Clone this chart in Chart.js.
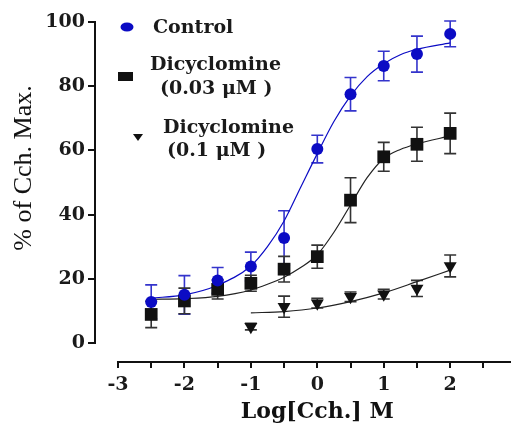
<!DOCTYPE html>
<html>
<head>
<meta charset="utf-8">
<script src="https://cdn.jsdelivr.net/npm/chart.js@4.4.1/dist/chart.umd.min.js"></script>
<style>
  html, body { margin: 0; padding: 0; background: #fff; }
  canvas { display: block; }
</style>
</head>
<body>
<canvas id="curveChart" width="511" height="427"></canvas>
<script>
// measured points (log concentration, % of Cch max, SEM)
const logConc = [-2.5, -2, -1.5, -1, -0.5, 0, 0.5, 1, 1.5, 2];
const controlMean = [12.8, 15.0, 19.5, 23.8, 32.7, 60.4, 77.5, 86.3, 90.0, 96.3];
const controlErr = [5.3, 6.0, 4.0, 4.5, 8.5, 4.3, 5.2, 4.6, 5.6, 4.0];
const dicy003Mean = [8.9, 13.1, 16.7, 18.6, 23.0, 26.9, 44.5, 58.0, 61.9, 65.3];
const dicy003Err = [4.1, 4.0, 3.0, 2.5, 4.0, 3.6, 7.0, 4.5, 5.3, 6.3];
const dicy01Conc = [-1, -0.5, 0, 0.5, 1, 1.5, 2];
const dicy01Mean = [5.1, 11.3, 12.4, 14.4, 15.2, 17.0, 24.0];
const dicy01Err = [1.0, 3.3, 1.5, 1.5, 1.5, 2.5, 3.4];

// fitted curves
const fitX = [-2.5, -2, -1.5, -1, -0.75, -0.5, -0.25, 0, 0.25, 0.5, 0.75, 1, 1.25, 1.5, 2];
const controlFit = [14.0, 15.0, 18.0, 24.0, 30.0, 38.0, 48.5, 59.0, 69.0, 77.0, 83.0, 87.0, 89.8, 91.5, 93.5];
const dicy003Fit = [13.6, 13.8, 14.5, 16.5, 18.3, 20.5, 23.5, 27.5, 34.5, 43.0, 51.5, 57.5, 60.3, 62.0, 64.5];
const dicy01FitX = [-1, -0.5, 0, 0.5, 1, 1.5, 2];
const dicy01Fit = [9.4, 9.8, 10.9, 12.9, 15.6, 19.1, 22.7];

const xTicks = [-3, -2.5, -2, -1.5, -1, -0.5, 0, 0.5, 1, 1.5, 2, 2.5];
const yTicks = [0, 20, 40, 60, 80, 100];
const xTitle = 'Log[Cch.] M';
const yTitle = '% of Cch. Max.';

const BLUE = '#0b0bc4';
const BLUE_ERR = '#3434cc';
const BLACK = '#111';

const pts = (xs, ys) => xs.map((v, i) => ({ x: v, y: ys[i] }));

const errorSets = [
    { xs: logConc, ys: controlMean, err: controlErr, color: BLUE_ERR },
    { xs: logConc, ys: dicy003Mean, err: dicy003Err, color: '#333' },
    { xs: dicy01Conc, ys: dicy01Mean, err: dicy01Err, color: '#333' }
];

const decor = {
    id: 'decor',
    beforeDatasetsDraw(chart) {
        const { ctx, scales: { x, y } } = chart;
        ctx.save();
        ctx.lineWidth = 1.6;
        errorSets.forEach(s => {
            ctx.strokeStyle = s.color;
            s.xs.forEach((v, i) => {
                const px = x.getPixelForValue(v);
                const top = y.getPixelForValue(s.ys[i] + s.err[i]);
                const bot = y.getPixelForValue(s.ys[i] - s.err[i]);
                ctx.beginPath();
                ctx.moveTo(px, top); ctx.lineTo(px, bot);
                ctx.moveTo(px - 6, top); ctx.lineTo(px + 6, top);
                ctx.moveTo(px - 6, bot); ctx.lineTo(px + 6, bot);
                ctx.stroke();
            });
        });
        ctx.restore();
    },
    afterDraw(chart) {
        const { ctx, chartArea, scales: { x, y } } = chart;
        ctx.save();
        // offset axes
        ctx.strokeStyle = BLACK;
        ctx.lineWidth = 2;
        ctx.beginPath();
        ctx.moveTo(chartArea.left, y.getPixelForValue(0) + 1);
        ctx.lineTo(chartArea.left, y.getPixelForValue(100) - 1);
        ctx.moveTo(x.getPixelForValue(-3) - 1, chartArea.bottom);
        ctx.lineTo(chart.width, chartArea.bottom);
        ctx.stroke();

        // axis titles
        ctx.fillStyle = BLACK;
        ctx.textAlign = 'center';
        ctx.textBaseline = 'alphabetic';
        ctx.font = 'bold 22px "DejaVu Serif"';
        ctx.fillText(xTitle, x.getPixelForValue(0), 418);
        ctx.save();
        ctx.translate(31, 168);
        ctx.rotate(-Math.PI / 2);
        ctx.font = '26px "Liberation Serif"';
        ctx.fillText(yTitle, 0, 0);
        ctx.restore();

        // legend
        ctx.textAlign = 'left';
        ctx.font = 'bold 19px "DejaVu Serif"';
        ctx.fillStyle = BLUE;
        ctx.beginPath();
        ctx.ellipse(127, 27, 6.5, 4.5, 0, 0, Math.PI * 2);
        ctx.fill();
        ctx.fillStyle = BLACK;
        ctx.fillRect(118, 72, 15, 9);
        ctx.beginPath();
        ctx.moveTo(133, 134); ctx.lineTo(143, 134); ctx.lineTo(138, 141);
        ctx.closePath();
        ctx.fill();
        ctx.fillStyle = '#1a1a1a';
        ctx.fillText('Control', 153, 33);
        ctx.fillText('Dicyclomine', 150, 70);
        ctx.fillText('(0.03 \u03bcM )', 160, 94);
        ctx.fillText('Dicyclomine', 163, 133);
        ctx.fillText('(0.1 \u03bcM )', 167, 156);
        ctx.restore();
    }
};

new Chart(document.getElementById('curveChart'), {
    type: 'scatter',
    data: {
        datasets: [
            {
                data: pts(logConc, controlMean),
                pointStyle: 'circle', pointRadius: 6,
                backgroundColor: BLUE, borderColor: BLUE, borderWidth: 0
            },
            {
                data: pts(logConc, dicy003Mean),
                pointStyle: 'rect', pointRadius: 9,
                backgroundColor: BLACK, borderColor: BLACK, borderWidth: 0
            },
            {
                data: pts(dicy01Conc, dicy01Mean),
                pointStyle: 'triangle', pointRadius: 7.5, rotation: 180,
                backgroundColor: BLACK, borderColor: BLACK, borderWidth: 0
            },
            {
                data: pts(fitX, controlFit), showLine: true, pointRadius: 0,
                borderColor: BLUE, borderWidth: 1.2, cubicInterpolationMode: 'monotone'
            },
            {
                data: pts(fitX, dicy003Fit), showLine: true, pointRadius: 0,
                borderColor: '#222', borderWidth: 1.2, cubicInterpolationMode: 'monotone'
            },
            {
                data: pts(dicy01FitX, dicy01Fit), showLine: true, pointRadius: 0,
                borderColor: '#222', borderWidth: 1.2, cubicInterpolationMode: 'monotone'
            }
        ]
    },
    options: {
        responsive: false,
        animation: false,
        devicePixelRatio: 1,
        layout: { padding: { top: 22, right: 0, bottom: 0, left: 0 } },
        plugins: { legend: { display: false }, tooltip: { enabled: false } },
        scales: {
            x: {
                type: 'linear',
                min: -3.346,
                max: 2.78,
                afterBuildTicks: s => { s.ticks = xTicks.map(v => ({ value: v })); },
                afterFit: s => { s.height = 65; },
                border: { display: false },
                grid: { drawOnChartArea: false, drawTicks: true, tickLength: 6, color: BLACK, lineWidth: 2 },
                ticks: {
                    autoSkip: false, maxRotation: 0, padding: 6, color: '#1a1a1a',
                    font: { family: 'DejaVu Serif', weight: 'bold', size: 19 },
                    callback: v => Number.isInteger(v) ? String(v) : ''
                }
            },
            y: {
                type: 'linear',
                min: -5.92,
                max: 100,
                afterBuildTicks: s => { s.ticks = yTicks.map(v => ({ value: v })); },
                afterFit: s => { s.width = 95; },
                border: { display: false },
                grid: { drawOnChartArea: false, drawTicks: true, tickLength: 7, color: BLACK, lineWidth: 2 },
                ticks: {
                    padding: 3, color: '#1a1a1a',
                    font: { family: 'DejaVu Serif', weight: 'bold', size: 19 }
                }
            }
        }
    },
    plugins: [decor]
});
</script>
</body>
</html>
